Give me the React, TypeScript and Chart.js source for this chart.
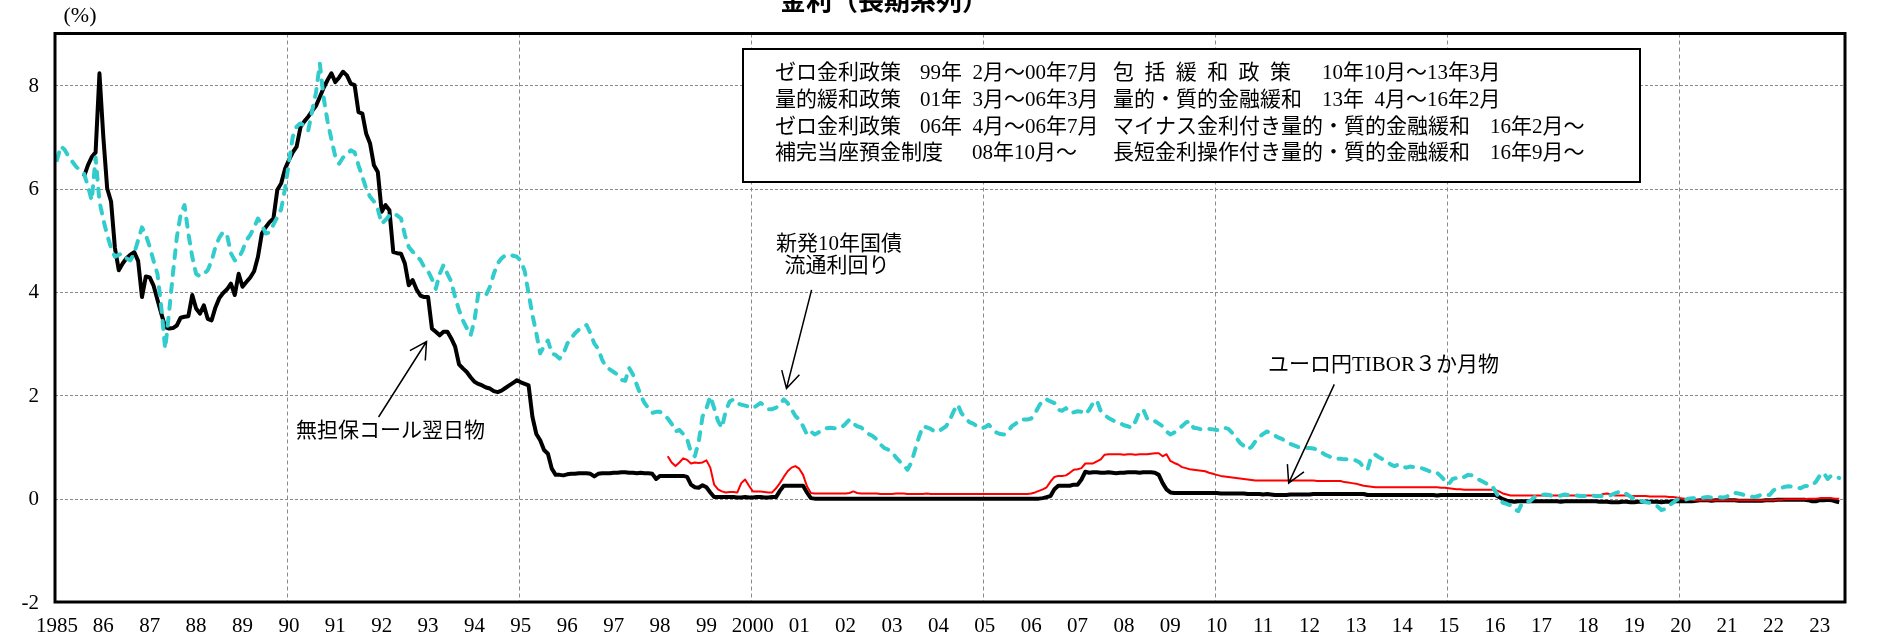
import React, { useEffect, useRef } from 'react';
import { Chart, registerables } from 'chart.js';

Chart.register(...registerables);

const WIDTH = 1877;
const HEIGHT = 638;

// x axis is measured in months since Jan 1985; each monthly value sits in the middle of its month
const FIRST_YEAR = 1985;
const X_MAX_MONTHS = 463;

const yearLabels = [
  '1985', '86', '87', '88', '89', '90', '91', '92', '93', '94', '95', '96', '97', '98', '99',
  '2000', '01', '02', '03', '04', '05', '06', '07', '08', '09', '10', '11', '12', '13', '14',
  '15', '16', '17', '18', '19', '20', '21', '22', '23',
];
const yTickValues = [8, 6, 4, 2, 0, -2];
const yGridValues = [8, 6, 4, 2, 0];
const gridYears = [1990, 1995, 2000, 2005, 2010, 2015, 2020];

// 新発10年国債流通利回り (monthly, from Jan 1985)
const jgb10y = [
  /*1985*/ 6.55, 6.82, 6.75, 6.62, 6.52, 6.42, 6.35, 6.29, 6.05, 5.77, 6.60, 5.75,
  /*1986*/ 5.40, 5.10, 4.85, 4.68, 4.72, 4.74, 4.65, 4.61, 4.75, 5.00, 5.25, 5.10,
  /*1987*/ 4.87, 4.60, 4.35, 3.70, 2.90, 3.60, 4.35, 5.05, 5.50, 5.68, 5.13, 4.68,
  /*1988*/ 4.35, 4.30, 4.35, 4.42, 4.60, 4.87, 5.05, 5.16, 5.10, 4.75, 4.61, 4.65,
  /*1989*/ 4.80, 5.00, 5.10, 5.25, 5.42, 5.30, 5.13, 5.15, 5.30, 5.45, 5.60, 6.00,
  /*1990*/ 6.50, 7.00, 7.20, 7.26, 7.22, 7.12, 7.50, 7.85, 8.42, 7.75, 7.30, 6.95,
  /*1991*/ 6.62, 6.48, 6.60, 6.65, 6.74, 6.70, 6.45, 6.23, 6.00, 5.84, 5.75, 5.60,
  /*1992*/ 5.32, 5.39, 5.48, 5.52, 5.48, 5.42, 5.10, 4.87, 4.78, 4.70, 4.62, 4.48,
  /*1993*/ 4.40, 4.25, 4.06, 4.35, 4.52, 4.35, 4.20, 3.90, 3.65, 3.45, 3.30, 3.16,
  /*1994*/ 3.45, 3.97, 3.95, 3.94, 4.10, 4.35, 4.55, 4.65, 4.71, 4.72, 4.70, 4.68,
  /*1995*/ 4.60, 4.40, 3.97, 3.55, 3.20, 2.81, 2.95, 3.06, 2.81, 2.78, 2.71, 2.80,
  /*1996*/ 3.00, 3.10, 3.20, 3.27, 3.32, 3.36, 3.20, 3.00, 2.90, 2.69, 2.55, 2.50,
  /*1997*/ 2.45, 2.40, 2.30, 2.28, 2.53, 2.40, 2.20, 2.00, 1.85, 1.75, 1.66, 1.68,
  /*1998*/ 1.68, 1.62, 1.55, 1.45, 1.30, 1.33, 1.25, 1.15, 0.90, 0.82, 1.10, 1.59,
  /*1999*/ 1.75, 1.98, 1.75, 1.50, 1.37, 1.70, 1.88, 1.92, 1.84, 1.82, 1.80, 1.78,
  /*2000*/ 1.75, 1.80, 1.85, 1.80, 1.73, 1.73, 1.76, 1.82, 1.92, 1.85, 1.73, 1.60,
  /*2001*/ 1.53, 1.40, 1.24, 1.30, 1.24, 1.28, 1.34, 1.36, 1.37, 1.36, 1.37, 1.38,
  /*2002*/ 1.45, 1.53, 1.45, 1.40, 1.38, 1.30, 1.25, 1.21, 1.15, 1.05, 0.98, 0.95,
  /*2003*/ 0.90, 0.80, 0.72, 0.65, 0.56, 0.70, 0.95, 1.20, 1.40, 1.38, 1.35, 1.30,
  /*2004*/ 1.30, 1.35, 1.40, 1.53, 1.70, 1.82, 1.65, 1.56, 1.48, 1.45, 1.40, 1.36,
  /*2005*/ 1.38, 1.43, 1.35, 1.28, 1.25, 1.24, 1.30, 1.40, 1.45, 1.53, 1.53, 1.53,
  /*2006*/ 1.55, 1.65, 1.79, 1.91, 1.92, 1.88, 1.85, 1.72, 1.70, 1.75, 1.66, 1.67,
  /*2007*/ 1.69, 1.68, 1.63, 1.72, 1.85, 1.90, 1.69, 1.62, 1.56, 1.52, 1.48, 1.46,
  /*2008*/ 1.42, 1.40, 1.37, 1.50, 1.68, 1.72, 1.55, 1.50, 1.50, 1.45, 1.40, 1.30,
  /*2009*/ 1.24, 1.28, 1.35, 1.40, 1.47, 1.50, 1.37, 1.36, 1.34, 1.34, 1.35, 1.34,
  /*2010*/ 1.33, 1.33, 1.37, 1.35, 1.27, 1.18, 1.08, 1.02, 0.95, 1.00, 1.11, 1.20,
  /*2011*/ 1.25, 1.30, 1.27, 1.22, 1.18, 1.15, 1.10, 1.06, 1.03, 1.00, 0.98, 0.98,
  /*2012*/ 0.98, 0.97, 0.95, 0.90, 0.85, 0.82, 0.78, 0.77, 0.77, 0.76, 0.76, 0.75,
  /*2013*/ 0.74, 0.70, 0.60, 0.56, 0.82, 0.85, 0.80, 0.76, 0.72, 0.66, 0.63, 0.66,
  /*2014*/ 0.62, 0.60, 0.62, 0.61, 0.60, 0.59, 0.56, 0.53, 0.53, 0.50, 0.43, 0.35,
  /*2015*/ 0.28, 0.38, 0.40, 0.38, 0.42, 0.46, 0.45, 0.40, 0.36, 0.32, 0.28, 0.27,
  /*2016*/ 0.15, 0.02, -0.08, -0.10, -0.13, -0.21, -0.24, -0.08, -0.06, -0.05, 0.02, 0.06,
  /*2017*/ 0.07, 0.08, 0.07, 0.05, 0.05, 0.06, 0.08, 0.07, 0.07, 0.06, 0.05, 0.05,
  /*2018*/ 0.06, 0.06, 0.05, 0.05, 0.05, 0.05, 0.07, 0.10, 0.13, 0.14, 0.09, 0.04,
  /*2019*/ 0.00, -0.03, -0.05, -0.07, -0.08, -0.12, -0.15, -0.22, -0.20, -0.13, -0.08, -0.02,
  /*2020*/ -0.01, -0.03, 0.00, 0.01, 0.00, 0.01, 0.02, 0.03, 0.02, 0.03, 0.03, 0.02,
  /*2021*/ 0.04, 0.10, 0.11, 0.10, 0.08, 0.06, 0.04, 0.03, 0.05, 0.08, 0.07, 0.07,
  /*2022*/ 0.16, 0.20, 0.21, 0.23, 0.24, 0.23, 0.22, 0.20, 0.24, 0.25, 0.25, 0.33,
  /*2023*/ 0.45, 0.50, 0.38, 0.45, 0.42, 0.40,
];

// ユーロ円TIBOR3か月物 (monthly, from Mar 1998)
const TIBOR_START = 158;
const tibor3m = [
  /*1998*/ 0.82, 0.70, 0.63, 0.70, 0.78, 0.75, 0.68, 0.70, 0.69, 0.70,
  /*1999*/ 0.74, 0.60, 0.27, 0.18, 0.14, 0.12, 0.13, 0.13, 0.12, 0.30, 0.37, 0.25,
  /*2000*/ 0.14, 0.14, 0.14, 0.13, 0.12, 0.12, 0.20, 0.30, 0.42, 0.53, 0.60, 0.63,
  /*2001*/ 0.58, 0.46, 0.24, 0.11, 0.10, 0.10, 0.10, 0.10, 0.10, 0.10, 0.10, 0.10,
  /*2002*/ 0.10, 0.11, 0.14, 0.11, 0.10, 0.10, 0.10, 0.10, 0.10, 0.09, 0.09, 0.09,
  /*2003*/ 0.09, 0.10, 0.10, 0.10, 0.09, 0.09, 0.09, 0.09, 0.09, 0.10, 0.09, 0.09,
  /*2004*/ 0.09, 0.09, 0.09, 0.09, 0.09, 0.09, 0.09, 0.09, 0.09, 0.09, 0.09, 0.09,
  /*2005*/ 0.09, 0.09, 0.09, 0.09, 0.09, 0.09, 0.09, 0.09, 0.09, 0.09, 0.09, 0.09,
  /*2006*/ 0.10, 0.12, 0.15, 0.18, 0.22, 0.33, 0.42, 0.44, 0.44, 0.45, 0.50, 0.56,
  /*2007*/ 0.57, 0.59, 0.68, 0.68, 0.68, 0.72, 0.76, 0.85, 0.86, 0.86, 0.86, 0.86,
  /*2008*/ 0.85, 0.86, 0.86, 0.85, 0.86, 0.86, 0.86, 0.87, 0.88, 0.88, 0.82, 0.86,
  /*2009*/ 0.73, 0.69, 0.66, 0.61, 0.59, 0.57, 0.56, 0.55, 0.54, 0.53, 0.50, 0.48,
  /*2010*/ 0.46, 0.44, 0.43, 0.42, 0.41, 0.40, 0.39, 0.38, 0.37, 0.36, 0.35, 0.35,
  /*2011*/ 0.35, 0.35, 0.35, 0.35, 0.35, 0.35, 0.35, 0.35, 0.35, 0.35, 0.35, 0.35,
  /*2012*/ 0.35, 0.35, 0.34, 0.34, 0.34, 0.34, 0.34, 0.34, 0.34, 0.32, 0.31, 0.30,
  /*2013*/ 0.29, 0.27, 0.25, 0.24, 0.23, 0.22, 0.22, 0.22, 0.22, 0.22, 0.22, 0.22,
  /*2014*/ 0.22, 0.22, 0.22, 0.22, 0.22, 0.22, 0.22, 0.22, 0.22, 0.22, 0.21, 0.21,
  /*2015*/ 0.20, 0.19, 0.18, 0.18, 0.17, 0.17, 0.17, 0.17, 0.17, 0.17, 0.17, 0.17,
  /*2016*/ 0.17, 0.14, 0.10, 0.08, 0.06, 0.06, 0.06, 0.06, 0.06, 0.06, 0.06, 0.06,
  /*2017*/ 0.06, 0.06, 0.06, 0.06, 0.06, 0.06, 0.06, 0.06, 0.06, 0.06, 0.06, 0.06,
  /*2018*/ 0.06, 0.06, 0.06, 0.06, 0.09, 0.10, 0.08, 0.06, 0.06, 0.06, 0.06, 0.05,
  /*2019*/ 0.05, 0.05, 0.05, 0.05, 0.04, 0.04, 0.04, 0.04, 0.04, 0.03, 0.03, 0.02,
  /*2020*/ 0.01, 0.00, -0.01, -0.02, -0.03, -0.03, -0.03, -0.03, -0.03, -0.03, -0.03, -0.03,
  /*2021*/ -0.03, -0.03, -0.03, -0.03, -0.03, -0.03, -0.03, -0.03, -0.03, -0.03, -0.03, -0.03,
  /*2022*/ -0.03, -0.02, -0.02, -0.01, -0.01, -0.01, -0.01, -0.01, -0.01, 0.00, 0.00, 0.00,
  /*2023*/ 0.01, 0.01, 0.01, 0.01, 0.00, 0.00,
];

// 無担保コール翌日物 (monthly, from Aug 1985)
const CALL_START = 7;
const callRate = [
  /*1985*/ 6.23, 6.45, 6.61, 6.70, 8.23,
  /*1986*/ 7.00, 6.00, 5.75, 4.85, 4.42, 4.55, 4.65, 4.72, 4.77, 4.60, 3.90, 4.30,
  /*1987*/ 4.28, 4.12, 3.85, 3.58, 3.32, 3.29, 3.30, 3.35, 3.50, 3.52, 3.53, 3.94,
  /*1988*/ 3.68, 3.58, 3.74, 3.48, 3.45, 3.70, 3.88, 3.98, 4.05, 4.16, 3.94, 4.35,
  /*1989*/ 4.10, 4.19, 4.28, 4.40, 4.68, 5.13, 5.25, 5.35, 5.42, 5.97, 6.10, 6.38,
  /*1990*/ 6.55, 6.70, 6.81, 7.19, 7.30, 7.39, 7.50, 7.60, 7.77, 7.95, 8.10, 8.23,
  /*1991*/ 8.06, 8.15, 8.26, 8.19, 8.03, 8.00, 7.48, 7.45, 7.06, 6.87, 6.45, 6.32,
  /*1992*/ 5.55, 5.68, 5.58, 4.77, 4.75, 4.74, 4.55, 4.13, 4.23, 4.05, 3.93, 3.90,
  /*1993*/ 3.90, 3.29, 3.23, 3.16, 3.23, 3.23, 3.10, 2.94, 2.60, 2.52, 2.45, 2.35,
  /*1994*/ 2.26, 2.22, 2.19, 2.15, 2.13, 2.08, 2.06, 2.09, 2.14, 2.19, 2.24, 2.29,
  /*1995*/ 2.25, 2.22, 2.19, 1.58, 1.25, 1.13, 0.94, 0.87, 0.58, 0.46, 0.46, 0.45,
  /*1996*/ 0.47, 0.48, 0.48, 0.49, 0.49, 0.49, 0.48, 0.43, 0.48, 0.49, 0.49, 0.49,
  /*1997*/ 0.50, 0.50, 0.51, 0.51, 0.50, 0.50, 0.49, 0.50, 0.49, 0.49, 0.48, 0.38,
  /*1998*/ 0.44, 0.44, 0.44, 0.44, 0.44, 0.44, 0.44, 0.42, 0.27, 0.22, 0.21, 0.26,
  /*1999*/ 0.22, 0.12, 0.03, 0.03, 0.03, 0.03, 0.03, 0.03, 0.02, 0.02, 0.03, 0.02,
  /*2000*/ 0.02, 0.03, 0.03, 0.02, 0.02, 0.03, 0.03, 0.15, 0.25, 0.25, 0.25, 0.25,
  /*2001*/ 0.25, 0.25, 0.12, 0.01, 0.00, 0.00, 0.00, 0.00, 0.00, 0.00, 0.00, 0.00,
  /*2002*/ 0.00, 0.00, 0.00, 0.00, 0.00, 0.00, 0.00, 0.00, 0.00, 0.00, 0.00, 0.00,
  /*2003*/ 0.00, 0.00, 0.00, 0.00, 0.00, 0.00, 0.00, 0.00, 0.00, 0.00, 0.00, 0.00,
  /*2004*/ 0.00, 0.00, 0.00, 0.00, 0.00, 0.00, 0.00, 0.00, 0.00, 0.00, 0.00, 0.00,
  /*2005*/ 0.00, 0.00, 0.00, 0.00, 0.00, 0.00, 0.00, 0.00, 0.00, 0.00, 0.00, 0.00,
  /*2006*/ 0.00, 0.00, 0.00, 0.01, 0.03, 0.05, 0.18, 0.25, 0.25, 0.25, 0.25, 0.27,
  /*2007*/ 0.27, 0.37, 0.52, 0.50, 0.51, 0.51, 0.50, 0.50, 0.51, 0.50, 0.49, 0.50,
  /*2008*/ 0.50, 0.51, 0.51, 0.51, 0.50, 0.51, 0.51, 0.51, 0.50, 0.46, 0.30, 0.18,
  /*2009*/ 0.12, 0.11, 0.11, 0.11, 0.11, 0.11, 0.11, 0.11, 0.11, 0.11, 0.11, 0.11,
  /*2010*/ 0.11, 0.10, 0.10, 0.10, 0.10, 0.10, 0.10, 0.10, 0.09, 0.09, 0.09, 0.09,
  /*2011*/ 0.08, 0.09, 0.08, 0.07, 0.07, 0.07, 0.07, 0.08, 0.08, 0.08, 0.08, 0.08,
  /*2012*/ 0.08, 0.09, 0.09, 0.09, 0.09, 0.09, 0.09, 0.09, 0.09, 0.09, 0.09, 0.09,
  /*2013*/ 0.09, 0.09, 0.09, 0.07, 0.07, 0.07, 0.07, 0.07, 0.07, 0.07, 0.07, 0.07,
  /*2014*/ 0.07, 0.07, 0.07, 0.07, 0.07, 0.07, 0.07, 0.07, 0.07, 0.06, 0.07, 0.07,
  /*2015*/ 0.07, 0.07, 0.07, 0.07, 0.07, 0.07, 0.07, 0.07, 0.07, 0.07, 0.07, 0.07,
  /*2016*/ 0.07, 0.03, -0.01, -0.04, -0.05, -0.06, -0.05, -0.05, -0.05, -0.05, -0.05, -0.05,
  /*2017*/ -0.05, -0.05, -0.05, -0.05, -0.05, -0.06, -0.05, -0.05, -0.05, -0.05, -0.05, -0.05,
  /*2018*/ -0.05, -0.05, -0.05, -0.06, -0.06, -0.06, -0.07, -0.07, -0.07, -0.06, -0.06, -0.07,
  /*2019*/ -0.07, -0.06, -0.06, -0.06, -0.06, -0.06, -0.06, -0.07, -0.06, -0.06, -0.05, -0.05,
  /*2020*/ -0.05, -0.05, -0.05, -0.05, -0.04, -0.03, -0.03, -0.03, -0.04, -0.03, -0.03, -0.03,
  /*2021*/ -0.03, -0.03, -0.03, -0.04, -0.04, -0.04, -0.04, -0.04, -0.04, -0.04, -0.03, -0.03,
  /*2022*/ -0.03, -0.02, -0.02, -0.02, -0.02, -0.02, -0.02, -0.02, -0.02, -0.03, -0.05, -0.05,
  /*2023*/ -0.03, -0.03, -0.02, -0.03, -0.05, -0.07,
];

// policy legend box texts
const legendCol1 = ['ゼロ金利政策', '量的緩和政策', 'ゼロ金利政策', '補完当座預金制度'];
const legendCol2 = ['99年\u20022月～00年7月', '01年\u20023月～06年3月', '06年\u20024月～06年7月', '08年10月～'];
const legendCol3 = ['包括緩和政策', '量的・質的金融緩和', 'マイナス金利付き量的・質的金融緩和', '長短金利操作付き量的・質的金融緩和'];
const legendCol4 = ['10年10月～13年3月', '13年\u20024月～16年2月', '16年2月～', '16年9月～'];

// annotation labels (positions in data coordinates: months, %)
const annotations = [
  { lines: ['新発10年国債', '流通利回り'], text: [[202.8, 4.91], [202.3, 4.50]], tail: [195.7, 4.04], tip: [189.2, 2.13] },
  { lines: ['無担保コール翌日物'], text: [[86.8, 1.29]], tail: [83.7, 1.58], tip: [96.1, 3.04] },
  { lines: ['ユーロ円TIBOR３か月物'], text: [[343.6, 2.58]], tail: [330.9, 2.21], tip: [319.1, 0.30] },
];

const TITLE = '金利（長期系列）';
const UNIT = '(%)';

const NUM_FONT = "21px 'Liberation Serif', 'Noto Sans CJK JP', serif";
const JP_FONT = "21px 'Liberation Serif', 'Noto Sans CJK JP', sans-serif";

function toPoints(values: (number | null)[], start: number) {
  const pts: { x: number; y: number }[] = [];
  values.forEach((v, i) => {
    if (v !== null && v !== undefined) pts.push({ x: start + i + 0.5, y: v });
  });
  return pts;
}

function drawArrow(ctx: CanvasRenderingContext2D, x1: number, y1: number, x2: number, y2: number) {
  const ang = Math.atan2(y2 - y1, x2 - x1);
  const L = 19;
  const spread = 0.5;
  ctx.beginPath();
  ctx.moveTo(x1, y1);
  ctx.lineTo(x2, y2);
  ctx.moveTo(x2 - L * Math.cos(ang - spread), y2 - L * Math.sin(ang - spread));
  ctx.lineTo(x2, y2);
  ctx.lineTo(x2 - L * Math.cos(ang + spread), y2 - L * Math.sin(ang + spread));
  ctx.stroke();
}

const decorPlugin = {
  id: 'decor',
  beforeDatasetsDraw(chart: any) {
    const { ctx, chartArea: a, scales } = chart;
    const xs = scales.x;
    const ys = scales.y;
    ctx.save();
    ctx.lineWidth = 1;
    ctx.strokeStyle = '#8a8a8a';
    ctx.setLineDash([3, 2]);
    for (const v of yGridValues) {
      const py = Math.round(ys.getPixelForValue(v)) + 0.5;
      ctx.beginPath();
      ctx.moveTo(a.left, py);
      ctx.lineTo(a.right, py);
      ctx.stroke();
    }
    ctx.setLineDash([4, 3]);
    for (const yr of gridYears) {
      const px = Math.round(xs.getPixelForValue((yr - FIRST_YEAR) * 12)) + 0.5;
      ctx.beginPath();
      ctx.moveTo(px, a.top);
      ctx.lineTo(px, a.bottom);
      ctx.stroke();
    }
    ctx.restore();
  },
  afterDatasetsDraw(chart: any) {
    const { ctx, chartArea: a, scales } = chart;
    const xs = scales.x;
    const ys = scales.y;
    const px = (m: number) => xs.getPixelForValue(m);
    const py = (v: number) => ys.getPixelForValue(v);
    ctx.save();
    ctx.setLineDash([]);

    // policy legend box
    const box = { x: 743, y: 49, w: 897, h: 133 };
    ctx.fillStyle = '#ffffff';
    ctx.fillRect(box.x, box.y, box.w, box.h);
    ctx.lineWidth = 2;
    ctx.strokeStyle = '#000000';
    ctx.strokeRect(box.x, box.y, box.w, box.h);
    ctx.fillStyle = '#000000';
    ctx.font = JP_FONT;
    ctx.textBaseline = 'middle';
    ctx.textAlign = 'left';
    const rowY = [73, 100, 127, 153];
    rowY.forEach((ry, r) => {
      ctx.fillText(legendCol1[r], 775, ry);
      ctx.fillText(legendCol2[r], r === 3 ? 972 : 920, ry);
      if (r === 0) {
        Array.from(legendCol3[0]).forEach((ch, i) => ctx.fillText(ch, 1113 + i * 31.4, ry));
      } else {
        ctx.fillText(legendCol3[r], 1113, ry);
      }
      ctx.fillText(legendCol4[r], r < 2 ? 1322 : 1490, ry);
    });

    // plot frame
    ctx.lineWidth = 3;
    ctx.strokeStyle = '#000000';
    ctx.strokeRect(a.left, a.top, a.right - a.left, a.bottom - a.top);

    // axis labels
    ctx.fillStyle = '#000000';
    ctx.font = NUM_FONT;
    ctx.textAlign = 'right';
    ctx.textBaseline = 'middle';
    for (const v of yTickValues) ctx.fillText(String(v), 39, py(v) + 1);
    ctx.textAlign = 'center';
    yearLabels.forEach((l, k) => ctx.fillText(l, px(12 * k + 0.5), 626));

    // unit
    ctx.font = "22px 'Liberation Serif', serif";
    ctx.fillText(UNIT, 80, 16);

    // title (clipped at the top like the original)
    ctx.font = "bold 26px 'Noto Sans CJK JP', sans-serif";
    ctx.textBaseline = 'ideographic';
    ctx.fillText(TITLE, 884, 13);

    // annotations
    ctx.font = JP_FONT;
    ctx.textBaseline = 'middle';
    ctx.textAlign = 'center';
    ctx.lineWidth = 1.5;
    for (const an of annotations) {
      an.lines.forEach((t, i) => ctx.fillText(t, px(an.text[i][0]), py(an.text[i][1])));
      drawArrow(ctx, px(an.tail[0]), py(an.tail[1]), px(an.tip[0]), py(an.tip[1]));
    }
    ctx.restore();
  },
};

export default function App() {
  const canvasRef = useRef<HTMLCanvasElement | null>(null);

  useEffect(() => {
    document.body.style.margin = '0';
    document.body.style.background = '#ffffff';
    const canvas = canvasRef.current;
    if (!canvas) return;
    const chart = new Chart(canvas, {
      type: 'line',
      data: {
        datasets: [
          {
            label: '新発10年国債流通利回り',
            data: toPoints(jgb10y, 0),
            borderColor: '#33CCCC',
            borderWidth: 4,
            borderDash: [8, 9],
            borderCapStyle: 'round',
            borderJoinStyle: 'round',
            pointRadius: 0,
            fill: false,
            order: 1,
          },
          {
            label: 'ユーロ円TIBOR3か月物',
            data: toPoints(tibor3m, TIBOR_START),
            borderColor: '#FF0000',
            borderWidth: 2,
            borderJoinStyle: 'round',
            pointRadius: 0,
            fill: false,
            order: 2,
          },
          {
            label: '無担保コール翌日物',
            data: toPoints(callRate, CALL_START),
            borderColor: '#000000',
            borderWidth: 4,
            borderJoinStyle: 'round',
            pointRadius: 0,
            fill: false,
            order: 3,
          },
        ],
      },
      options: {
        animation: false,
        responsive: false,
        devicePixelRatio: 1,
        parsing: false,
        layout: { padding: { left: 55, right: WIDTH - 1845, top: 33.5, bottom: HEIGHT - 602 } },
        plugins: {
          legend: { display: false },
          tooltip: { enabled: false },
          title: { display: false },
        },
        elements: { point: { radius: 0 }, line: { tension: 0 } },
        scales: {
          x: { type: 'linear', min: 0, max: X_MAX_MONTHS, display: false },
          y: { type: 'linear', min: -2, max: 9, display: false },
        },
      },
      plugins: [decorPlugin],
    } as any);
    return () => chart.destroy();
  }, []);

  return (
    <div style={{ width: WIDTH, height: HEIGHT, background: '#ffffff' }}>
      <canvas ref={canvasRef} width={WIDTH} height={HEIGHT} style={{ display: 'block' }} />
    </div>
  );
}
